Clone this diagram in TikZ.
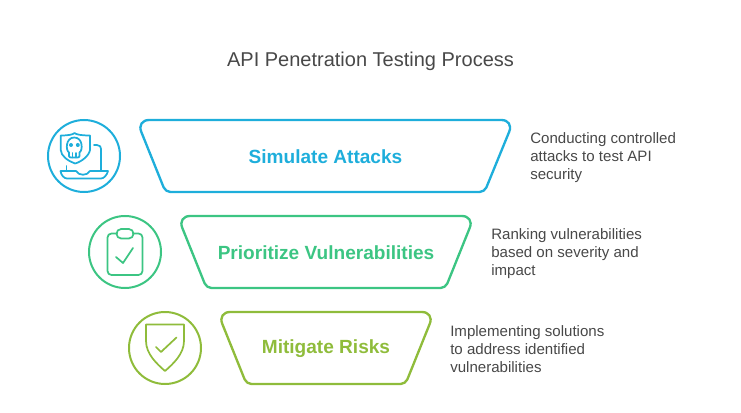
\documentclass[tikz,border=0pt]{standalone}
\usepackage{fontspec}
\setmainfont{Liberation Sans}
\definecolor{cblue}{HTML}{1EAEDB}
\definecolor{cgreen}{HTML}{3CC583}
\definecolor{clime}{HTML}{8FBC3B}
\definecolor{ctext}{HTML}{484848}
\tikzset{
  band/.style={line width=1.75pt,line join=round},
  sharpc/.style={rounded corners=9.5pt},
  softc/.style={rounded corners=3.7pt},
  ring/.style={line width=1.5pt},
  glyph/.style={line width=1.3pt,line cap=round,line join=round},
  head/.style={font=\bfseries\fontsize{14.3}{17}\selectfont,anchor=center,inner sep=0pt},
  desc/.style={font=\fontsize{11.3}{13.5}\selectfont,text=ctext,align=left,anchor=west,inner sep=0pt},
  titletext/.style={font=\fontsize{15}{18}\selectfont,text=ctext,anchor=center,inner sep=0pt}
}
\begin{document}
\begin{tikzpicture}[x=0.75pt,y=-0.75pt]
\useasboundingbox (0,0) rectangle (741,413);
\node[titletext] (title) at (370.5,61.5) {API Penetration Testing Process};

% Row 1
\draw[band,cblue] (325,120) [sharpc] -- (514,120) [softc] -- (484.5,192) -- (165.5,192) [sharpc] -- (136.5,120) -- cycle;
\node[head,text=cblue] (h1) at (325.5,156.5) {Simulate Attacks};
\node[desc] (d1) at (530,157.5) {Conducting controlled\\attacks to test API\\security};
\node[ring,draw=cblue,circle,minimum size=54pt,inner sep=0pt] (c1) at (84,156) {};
\begin{scope}[shift={(84,156)},glyph,cblue]
  \draw (-23.3,-20.5) .. controls (-15,-20.5) and (-11,-21.5) .. (-9.5,-23) .. controls (-8,-21.5) and (-3,-20.5) .. (6,-20.5)
     -- (6,-6) .. controls (5,0) and (-3,6) .. (-9,7.5) .. controls (-16,5) and (-23,0) .. (-23.3,-6) -- cycle;
  \draw (-15,0) -- (-15,-3.5) .. controls (-18.5,-5.5) and (-18.5,-18.5) .. (-9.7,-18.5)
     .. controls (-1,-18.5) and (-1,-5.5) .. (-4.5,-3.5) -- (-4.5,0);
  \draw (-15,0) .. controls (-15,1) and (-14,1.5) .. (-13,1.5) -- (-6.5,1.5) .. controls (-5.5,1.5) and (-4.5,1) .. (-4.5,0);
  \draw (-11.5,-3) -- (-11.5,1.5) (-8,-3) -- (-8,1.5);
  \fill (-13,-11) circle (2);
  \fill (-6.2,-11) circle (2);
  \draw (10,-11) -- (13,-11) .. controls (16,-11) and (17,-9) .. (17,-7) -- (17,14.5);
  \draw (-17.5,10) -- (-17.5,14.5);
  \draw (-23.5,15) -- (-8,15) .. controls (-5,20) and (3,20) .. (6,15) -- (24,15)
     .. controls (23,19) and (20,22.5) .. (17,22.5) -- (-17,22.5) .. controls (-20,22.5) and (-23,19) .. (-23.5,15) -- cycle;
\end{scope}

% Row 2
\draw[band,cgreen] (326,216) [sharpc] -- (474.5,216) [softc] -- (445.5,288) -- (206.5,288) [sharpc] -- (177.5,216) -- cycle;
\node[head,text=cgreen] (h2) at (326,252.5) {Prioritize Vulnerabilities};
\node[desc] (d2) at (491,253.5) {Ranking vulnerabilities\\based on severity and\\impact};
\node[ring,draw=cgreen,circle,minimum size=54pt,inner sep=0pt] (c2) at (125,252) {};
\begin{scope}[shift={(125,252)},glyph,cgreen]
  \draw[rounded corners=3pt] (-8,-18.5) -- (-17.5,-18.5) -- (-17.5,23) -- (17.5,23) -- (17.5,-18.5) -- (8,-18.5);
  \draw[rounded corners=3.5pt] (-8.5,-23) rectangle (8.5,-13.5);
  \draw (-9,5) -- (-2,11) -- (8,-4);
\end{scope}

% Row 3
\draw[band,clime] (326,312) [sharpc] -- (434.5,312) [softc] -- (405.5,384) -- (246.5,384) [sharpc] -- (217.5,312) -- cycle;
\node[head,text=clime] (h3) at (326,348.5) {Mitigate Risks};
\node[desc] (d3) at (450,349.5) {Implementing solutions\\to address identified\\vulnerabilities};
\node[ring,draw=clime,circle,minimum size=54pt,inner sep=0pt] (c3) at (165,348) {};
\begin{scope}[shift={(165,348)},glyph,clime]
  \draw (-19,-23.5) -- (19,-23.5) -- (19,-7) .. controls (19,6) and (8,16) .. (0,23)
     .. controls (-8,16) and (-19,6) .. (-19,-7) -- cycle;
  \draw (-9,-1) -- (-4,4) -- (11.5,-10.5);
\end{scope}
\end{tikzpicture}
\end{document}
